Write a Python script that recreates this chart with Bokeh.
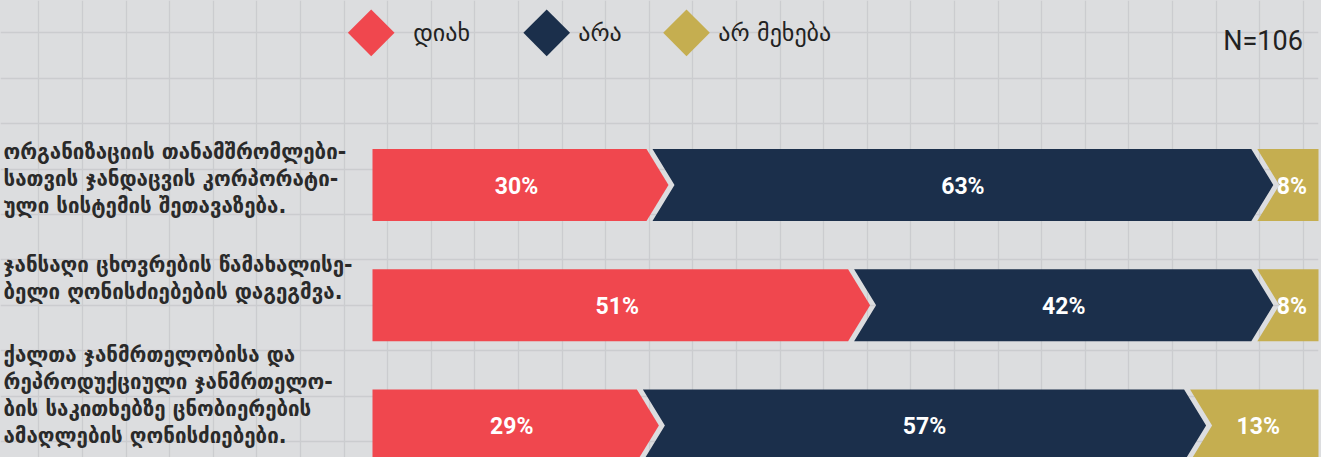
import numpy as np
from bokeh.plotting import figure
from bokeh.models import Range1d, FixedTicker, Grid, GlobalInlineStyleSheet
from bokeh.embed import file_html
from bokeh.resources import INLINE
from bokeh.core.properties import value

# ---------------- data ----------------
categories = [
    ["ორგანიზაციის თანამშრომლები-", "სათვის ჯანდაცვის კორპორატი-", "ული სისტემის შეთავაზება."],
    ["ჯანსაღი ცხოვრების წამახალისე-", "ბელი ღონისძიებების დაგეგმვა."],
    ["ქალთა ჯანმრთელობისა და", "რეპროდუქციული ჯანმრთელო-", "ბის საკითხებზე ცნობიერების", "ამაღლების ღონისძიებები."],
]
series_names = ["დიახ", "არა", "არ მეხება"]
yes = [30, 51, 29]
no = [63, 42, 57]
na = [8, 8, 13]
sample_note = "N=106"

# ---------------- style / layout ----------------
colors = ["#F0474E", "#1B2F4B", "#C5AE50"]
BG = "#DCDDDF"
GRID_COLOR = "#CBCCCF"
W, H = 1321, 457
PX_PER_PCT = 9.6
BAR_X0 = 372
FRAME_RIGHT = 1318
ROW0 = 184.5
ROW_STEP = 120.25
BAR_H = 72
D = 11   # chevron half depth px
G = 3    # half gap px


def X(px):
    return (px - BAR_X0) / PX_PER_PCT


def Y(py):
    return (py - ROW0) / ROW_STEP


dx = 1 / PX_PER_PCT
dy = 1 / ROW_STEP

p = figure(width=W, height=H, output_backend="svg", toolbar_location=None,
           x_range=Range1d(X(0), X(FRAME_RIGHT)), y_range=Range1d(Y(H), Y(0)),
           x_axis_location=None, y_axis_location=None,
           min_border=0, min_border_left=0, min_border_top=0, min_border_bottom=0,
           min_border_right=W - FRAME_RIGHT,
           background_fill_color=BG, border_fill_color=BG, outline_line_color=None)
p.stylesheets = [GlobalInlineStyleSheet(css="html, body {margin:0; padding:0; background:%s; overflow:hidden;}" % BG)]

p.xgrid.grid_line_color = None
p.ygrid.grid_line_color = None
vgrid = [X(38.3 + 43.6 * n) for n in range(-1, 31)]
hgrid = [Y(32.3 + 45.4 * m) for m in range(0, 10)]
p.add_layout(Grid(dimension=0, ticker=FixedTicker(ticks=vgrid), grid_line_color=GRID_COLOR, grid_line_width=1.3))
p.add_layout(Grid(dimension=1, ticker=FixedTicker(ticks=hgrid), grid_line_color=GRID_COLOR, grid_line_width=1.3))

# ---------------- bars (chevrons) ----------------
xs, ys, fills = [], [], []
lx, ly, lt = [], [], []
xmax = X(FRAME_RIGHT)
for i in range(len(categories)):
    vals = [yes[i], no[i], na[i]]
    edges = np.concatenate([[0], np.cumsum(vals)])
    top = i - BAR_H / 2 * dy
    bot = i + BAR_H / 2 * dy
    n = len(vals)
    for j in range(n):
        a, b = float(edges[j]), float(edges[j + 1])
        if j == 0:
            left_corner = a
        else:
            left_corner = a + (-D + G) * dx
        if j == n - 1:
            right_corner = b
        else:
            right_corner = b + (-D - G) * dx
        px_ = [left_corner, right_corner]
        py_ = [top, top]
        if j < n - 1:
            px_.append(b + (D - G) * dx)
            py_.append(i)
        px_ += [right_corner, left_corner]
        py_ += [bot, bot]
        if j > 0:
            px_.append(a + (D + G) * dx)
            py_.append(i)
        xs.append(px_)
        ys.append(py_)
        fills.append(colors[j])
        lx.append((a + min(b, xmax)) / 2)
        ly.append(i)
        lt.append(f"{vals[j]}%")

p.patches(xs, ys, fill_color=fills, line_color=None)
p.text(x=lx, y=ly, text=lt, text_font=value("Roboto"), text_font_style="bold",
       text_font_size="23px", text_color="white", text_align="center", text_baseline="middle",
       y_offset=1)

# ---------------- category labels ----------------
FIRST_LINE = [151.5, 264.5, 354.5]
LINE_STEP = 27.0
cx, cy, ct = [], [], []
for i, lines in enumerate(categories):
    for k, line in enumerate(lines):
        cx.append(X(3))
        cy.append(Y(FIRST_LINE[i] + k * LINE_STEP))
        ct.append(line)
p.text(x=cx, y=cy, text=ct, text_font=value("DejaVu Sans"), text_font_style="bold",
       text_font_size="20.5px", text_color="#2A2A2A", text_align="left", text_baseline="middle")

# ---------------- legend ----------------
leg_marker_px = [370.7, 546.2, 686.0]
leg_text_px = [412.7, 577.7, 717.7]
LEG_Y = 32.3
p.scatter(x=[X(v) for v in leg_marker_px], y=[Y(LEG_Y)] * 3, marker="square", size=33,
          angle=np.pi / 4, fill_color=colors, line_color=None)
p.text(x=[X(v) for v in leg_text_px], y=[Y(LEG_Y)] * 3, text=series_names,
       text_font=value("DejaVu Sans"), text_font_size="24px", text_color="#222222",
       text_align="left", text_baseline="middle")

p.text(x=[X(1302.3)], y=[Y(40.7)], text=[sample_note], text_font=value("Roboto"),
       text_font_size="27px", text_color="#222222", text_align="right", text_baseline="middle")

open("out.html", "w").write(file_html(p, INLINE))
